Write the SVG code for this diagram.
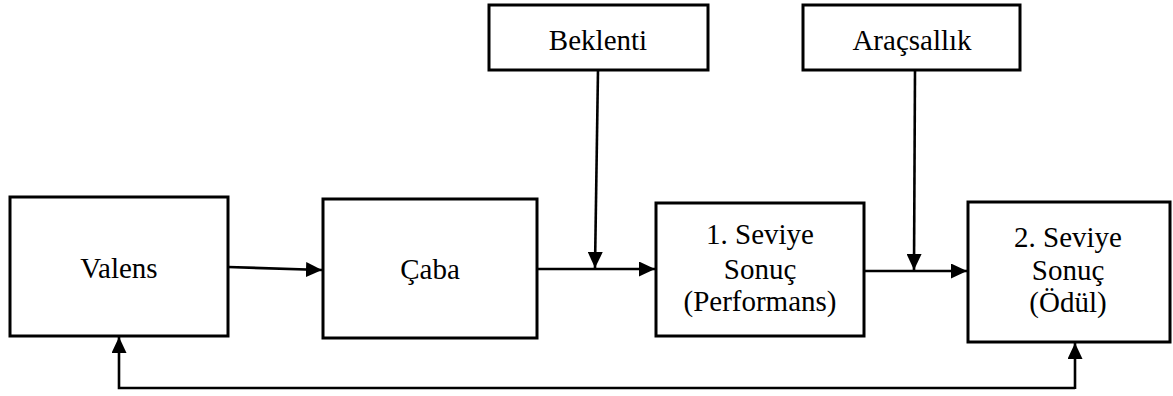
<svg xmlns="http://www.w3.org/2000/svg" width="1173" height="396" viewBox="0 0 1173 396">
  <style>
    .box { fill: #ffffff; stroke: #000000; stroke-width: 3; }
    text { font-family: "Liberation Serif", "DejaVu Serif", serif; font-size: 29px; fill: #000000; text-anchor: middle; }
    .wire { fill: none; stroke: #000000; stroke-width: 2.6; }
  </style>
  <defs>
    <!-- solid triangular arrowhead shared by all connectors -->
    <marker id="head" viewBox="0 0 16 15" refX="16" refY="7.5" markerWidth="16" markerHeight="15" markerUnits="userSpaceOnUse" orient="auto">
      <path d="M0,0 L16,7.5 L0,15 Z" fill="#000000"/>
    </marker>
  </defs>
  <rect width="1173" height="396" fill="#ffffff"/>

  <g id="valens">
    <rect class="box" x="10" y="197" width="218" height="139"/>
    <text x="119" y="278">Valens</text>
  </g>

  <g id="caba">
    <rect class="box" x="323" y="199" width="214" height="139"/>
    <text x="430" y="279">Çaba</text>
  </g>

  <g id="beklenti">
    <rect class="box" x="489" y="5" width="219" height="65"/>
    <text x="598" y="50">Beklenti</text>
  </g>

  <g id="aracsallik">
    <rect class="box" x="803" y="5" width="217" height="65"/>
    <text x="912" y="50">Araçsallık</text>
  </g>

  <g id="seviye1">
    <rect class="box" x="656" y="203" width="208" height="133"/>
    <text x="760" y="244">1. Seviye</text>
    <text x="760" y="279">Sonuç</text>
    <text x="760" y="311">(Performans)</text>
  </g>

  <g id="seviye2">
    <rect class="box" x="968" y="202" width="202" height="140"/>
    <text x="1068" y="247">2. Seviye</text>
    <text x="1068" y="280">Sonuç</text>
    <text x="1068" y="312">(Ödül)</text>
  </g>

  <g id="connectors">
    <line class="wire" x1="228" y1="267" x2="322" y2="270" marker-end="url(#head)"/>
    <line class="wire" x1="537" y1="269" x2="655" y2="269" marker-end="url(#head)"/>
    <line class="wire" x1="598" y1="70" x2="595" y2="268" marker-end="url(#head)"/>
    <line class="wire" x1="864" y1="271" x2="967" y2="271" marker-end="url(#head)"/>
    <line class="wire" x1="915" y1="70" x2="914" y2="270" marker-end="url(#head)"/>
    <polyline class="wire" points="1075,388 119,388 119,337" marker-end="url(#head)"/>
    <line class="wire" x1="1075" y1="389" x2="1075" y2="343" marker-end="url(#head)"/>
  </g>
</svg>
